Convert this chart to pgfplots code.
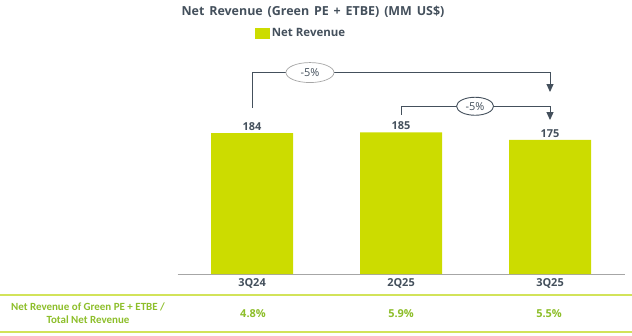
\documentclass[border=0pt]{standalone}
\usepackage{pgfplots}
\pgfplotsset{compat=1.18}
\usetikzlibrary{arrows.meta,shapes.geometric}
\usepackage{fontspec}
\setmainfont{Open Sans}
\newfontfamily\calib{Carlito}
\newfontfamily\titlefont[WordSpace=1.5]{Open Sans}
\definecolor{barc}{HTML}{CCDC00}
\definecolor{dk}{HTML}{44505C}
\definecolor{gtxt}{HTML}{8DBE2A}
\definecolor{gline}{HTML}{D2E35A}
\definecolor{axg}{HTML}{A6A6A6}
\begin{document}
\begin{tikzpicture}[x=1bp,y=1bp]
\path[use as bounding box] (0,0) rectangle (632,335);
\node[font=\titlefont\bfseries\fontsize{12.5}{14}\selectfont, text=dk] at (313,323) {Net Revenue (Green PE + ETBE) (MM US\$)};
\begin{axis}[at={(177.5bp,61bp)}, anchor=south west, scale only axis,
  width=447bp, height=214bp,
  xmin=-0.5, xmax=2.5, ymin=0, ymax=279.4,
  axis y line=none, axis x line*=bottom,
  x axis line style={axg, -, line width=0.8pt},
  xtick={0,1,2}, xticklabels={3Q24,2Q25,3Q25}, major tick length=0,
  xticklabel style={font=\bfseries\fontsize{11}{12}\selectfont, text=dk, yshift=-1bp},
  ybar, bar width=82bp,
  /pgf/number format/assume math mode=true,
  nodes near coords,
  nodes near coords style={font=\bfseries\fontsize{11}{12}\selectfont, text=dk, yshift=-1bp},
  clip=false,
  legend style={at={(0.166,1.126)}, anchor=west, draw=none, fill=none,
    font=\bfseries\fontsize{11.5}{13}\selectfont, text=dk},
  legend image code/.code={\fill[barc] (0bp,-5.5bp) rectangle (15bp,5.5bp);},
]
\addplot[fill=barc, draw=none] coordinates {(0,184) (1,185) (2,175)};
\addlegendentry{Net Revenue}
\draw[dk, line width=1pt, -{Triangle[width=7bp,length=8bp]}]
  (axis cs:0,216.7) |- (axis cs:2,263) -- (axis cs:2,237.6);
\draw[dk, line width=1pt, -{Triangle[width=7bp,length=8bp]}]
  (axis cs:1,208) |- (axis cs:2,219) -- (axis cs:2,201);
\node[ellipse, draw=axg, fill=white, line width=0.7pt, minimum width=48bp, minimum height=20bp, inner sep=0pt,
  font=\fontsize{11}{12}\selectfont, text=dk] at (axis cs:0.389,263) {-5\%};
\node[ellipse, draw=dk, fill=white, line width=0.9pt, minimum width=37bp, minimum height=18bp, inner sep=0pt,
  font=\fontsize{11}{12}\selectfont, text=dk] at (axis cs:1.497,219) {-5\%};
\end{axis}
\draw[gline, line width=1.6pt] (0,40) -- (632,40);
\draw[gline, line width=1.2pt] (0,3) -- (632,3);
\node[font=\calib\bfseries\fontsize{11}{13}\selectfont, text=gtxt, align=center] at (88,21.5)
  {Net Revenue of Green PE + ETBE /\\Total Net Revenue};
\node[font=\bfseries\fontsize{11}{12}\selectfont, text=gtxt] at (253,21) {4.8\%};
\node[font=\bfseries\fontsize{11}{12}\selectfont, text=gtxt] at (401,21) {5.9\%};
\node[font=\bfseries\fontsize{11}{12}\selectfont, text=gtxt] at (549,21) {5.5\%};
\end{tikzpicture}
\end{document}
